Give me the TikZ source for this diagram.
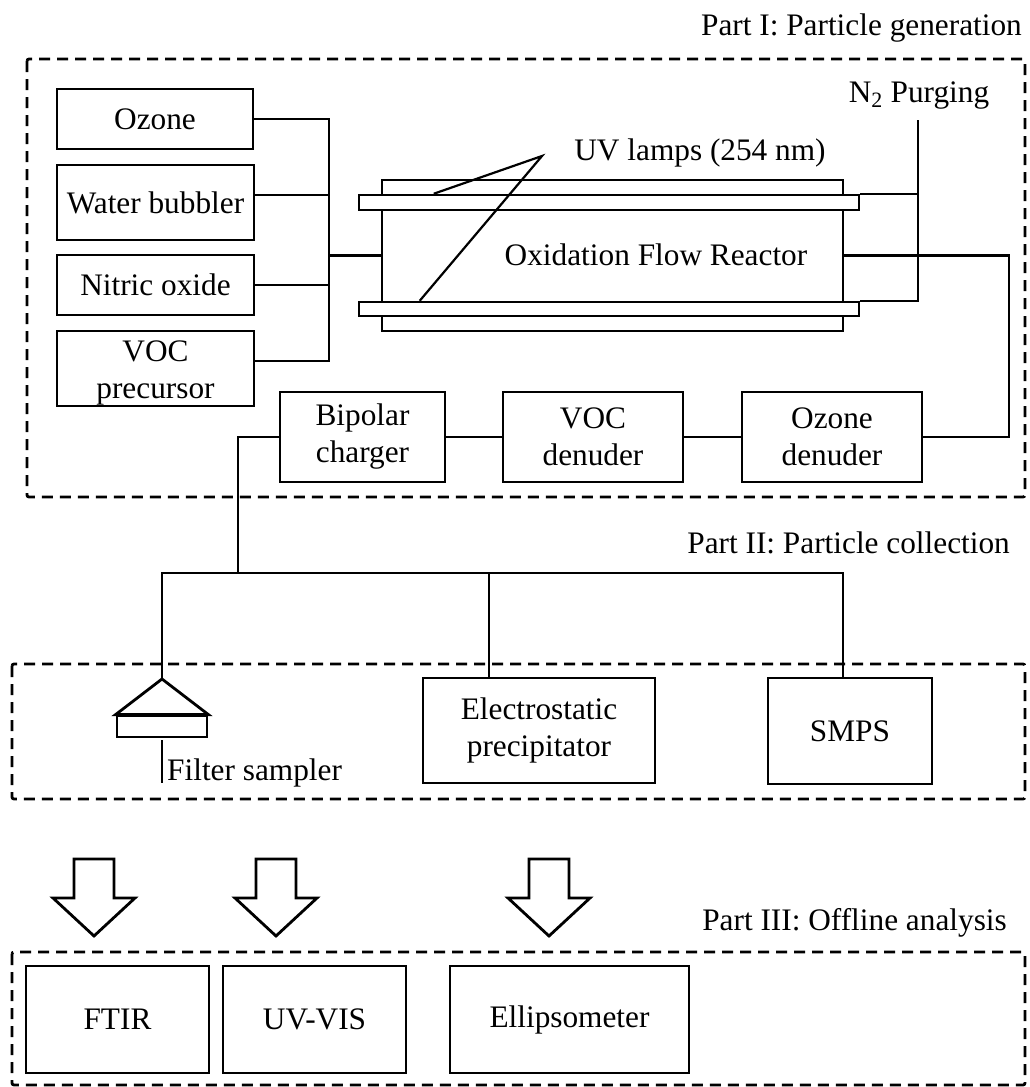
\documentclass[tikz,border=0pt]{standalone}
\usepackage{fontspec}
\setmainfont{Liberation Serif}
\begin{document}
\begin{tikzpicture}[x=1pt,y=-1pt,
  font=\fontsize{31.3}{37}\selectfont,
  box/.style={draw, line width=2.8pt, fill=white, inner sep=0pt, align=center},
  plainrect/.style={draw, line width=2.8pt, inner sep=0pt},
  lampbox/.style={draw, line width=2.5pt, fill=white, inner sep=0pt},
  conn/.style={line width=2.2pt},
  partbox/.style={draw, line width=2.8pt, dash pattern=on 11pt off 7pt, rounded corners=2pt},
  lbl/.style={inner sep=0pt},
  blockarrow/.pic={\draw[line width=2.8pt] (-20,0) -- (20,0) -- (20,39) -- (41,39) -- (0,77) -- (-41,39) -- (-20,39) -- cycle;}
]
\useasboundingbox (0,0) rectangle (1029,1087);

% part frames
\draw[partbox] (27,59) rectangle (1025,497);
\draw[partbox] (12,664) rectangle (1025,799);
\draw[partbox] (12,952) rectangle (1025,1085);

% part labels
\node[lbl, anchor=base east] (p1) at (1022,35) {Part I: Particle generation};
\node[lbl, anchor=base east] (p2) at (1010,553) {Part II: Particle collection};
\node[lbl, anchor=base east] (p3) at (1007,930) {Part III: Offline analysis};

% sources
\node[box, minimum width=196pt, minimum height=60pt] (ozone) at (155,119) {Ozone};
\node[box, minimum width=197pt, minimum height=75pt] (water) at (155.5,202.5) {Water bubbler};
\node[box, minimum width=197pt, minimum height=60pt] (nitric) at (155.5,285) {Nitric oxide};
\node[box, minimum width=197pt, minimum height=75pt] (voc) at (155.5,368.5) {\rule{0pt}{30pt}VOC\\precursor};

% reactor
\node[plainrect, minimum width=461pt, minimum height=151pt] (reactor) at (612.5,255.5) {};
\node[lampbox, minimum width=500pt, minimum height=15pt] (lamp1) at (609,202.5) {};
\node[lampbox, minimum width=500pt, minimum height=14pt] (lamp2) at (609,309) {};
\node[lbl] (ofr) at (656,255) {Oxidation Flow Reactor};
\node[lbl] (uvlbl) at (700,153) {UV lamps (254 nm)};
\coordinate (uvtip) at (542,156);
\draw[conn] ([xshift=76pt]lamp1.north west) -- (uvtip) -- ([xshift=62pt]lamp2.north west);

% N2 purging
\node[lbl, anchor=base] (n2) at (919,102) {N\textsubscript{2} Purging};
\coordinate (n2top) at (918,120);
\draw[conn] (n2top) |- (lamp1.north east);
\draw[conn] (n2top) |- (lamp2.north east);

% manifold
\coordinate (jo) at (329,119);
\coordinate (jw) at (329,195);
\coordinate (jn) at (329,285);
\coordinate (jv) at (329,361);
\coordinate (jr) at (329,255.5);
\draw[conn] (ozone.east) -- (jo) -- (jv) -- ([yshift=7.5pt]voc.east);
\draw[conn] ([yshift=7.5pt]water.east) -- (jw);
\draw[conn] (nitric.east) -- (jn);
\draw[conn] (jr) -- (reactor.west);

% treatment chain
\node[box, minimum width=165pt, minimum height=90pt] (bip) at (362.5,437) {Bipolar\\charger};
\node[box, minimum width=180pt, minimum height=90pt] (vocd) at (593,437) {VOC\\denuder};
\node[box, minimum width=180pt, minimum height=90pt] (ozd) at (832,437) {Ozone\\denuder};
\coordinate (oc) at (1009,255.5);
\draw[conn] (reactor.east) -- (oc) |- (ozd.east);
\draw[conn] (ozd.west) -- (vocd.east);
\draw[conn] (vocd.west) -- (bip.east);
\coordinate (bj) at (238,573);
\draw[conn] (bip.west) -| (bj);

% collection
\node[box, minimum width=232pt, minimum height=105pt] (esp) at (539,730.5) {Electrostatic\\precipitator};
\node[box, minimum width=164pt, minimum height=106pt] (smps) at (850,731) {SMPS};
\coordinate (apex) at (162,679);
\coordinate (busR) at (843,573);
\coordinate (busE) at (489,573);
\draw[conn] (apex) |- (busR) -- (busR |- smps.north);
\draw[conn] (busE) -- (busE |- esp.north);

% filter sampler
\node[plainrect, minimum width=90pt, minimum height=21pt] (filt) at (162,726.5) {};
\draw[line width=2.8pt] (apex) -- (filt.north west) -- (filt.north east) -- cycle;
\coordinate (stemend) at (162,783);
\draw[conn] ([yshift=-2pt]filt.south) -- (stemend);
\node[lbl, anchor=base west] (filtlbl) at (167,780) {Filter sampler};

% arrows
\pic at (94,859) {blockarrow};
\pic at (276,859) {blockarrow};
\pic at (549,859) {blockarrow};

% analysis
\node[box, minimum width=183pt, minimum height=107pt] (ftir) at (117.5,1019.5) {FTIR};
\node[box, minimum width=183pt, minimum height=107pt] (uvvis) at (314.5,1019.5) {UV-VIS};
\node[box, minimum width=239pt, minimum height=107pt] (ellip) at (569.5,1019.5) {Ellipsometer};
\end{tikzpicture}
\end{document}
